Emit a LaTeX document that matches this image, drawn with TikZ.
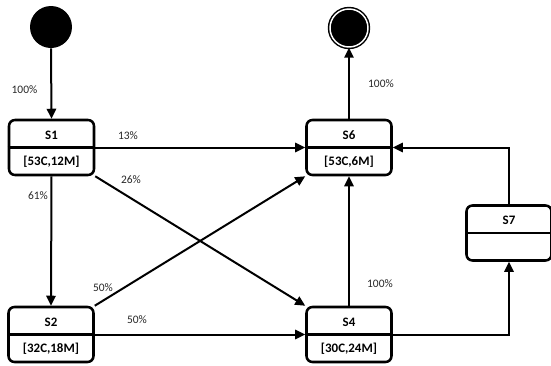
\documentclass[tikz,border=0pt]{standalone}
\usepackage{fontspec}
\setmainfont{Carlito}
\usetikzlibrary{arrows.meta}

\tikzset{
  state/.style={draw, rounded corners=4.5pt, line width=1.9pt, minimum width=63.75pt, minimum height=41.25pt, inner sep=0pt},
  trans/.style={line width=1.5pt, -{Triangle[length=7.5pt,width=7pt]}},
  plabel/.style={font=\fontsize{8.6}{10}\selectfont, text=black!85},
  sname/.style={font=\fontsize{9.7}{11}\selectfont\bfseries},
}

\begin{document}
\begin{tikzpicture}[x=0.75pt,y=0.75pt,yscale=-1,xscale=1]
\useasboundingbox (0,0) rectangle (551,365);

%Shape: Initial / Final [id:start,end]
\node [circle, fill=black, minimum size=31.5pt, inner sep=0pt] (start) at (51,27) {};
\node [circle, fill=black, draw=black, line width=1.1pt, double=white, double distance=1.1pt, minimum size=28.5pt, inner sep=0pt] (end) at (349,28) {};

%Shape: States
\node [state] (s1) at (51.5,147.5) {};
\node [state] (s6) at (349,147.5) {};
\node [state] (s2) at (51,334.5) {};
\node [state] (s4) at (349,334.5) {};
\node [state] (s7) at (509,233) {};

%Straight Lines: dividers
\foreach \s in {s1,s6,s2,s4,s7}
  \draw [line width=1.9pt] (\s.west) -- (\s.east);

% Text Node
\node [sname] (s1name) at (51.5,135.5) {S1};
\node [sname] (s1attr) at (51.5,161.5) {[53C,12M]};
\node [sname] (s6name) at (349,135.5) {S6};
\node [sname] (s6attr) at (349,161.5) {[53C,6M]};
\node [sname] (s2name) at (51,322.5) {S2};
\node [sname] (s2attr) at (51,348.5) {[32C,18M]};
\node [sname] (s4name) at (349,322.5) {S4};
\node [sname] (s4attr) at (349,348.5) {[30C,24M]};
\node [sname] (s7name) at (509,220.5) {S7};

%Straight Lines: transitions
\draw [trans] (start.south) -- (s1.north);
\draw [trans] (s1.east) -- (s6.west);
\draw [trans] (s1.south) -- (s2.north);
\draw [trans] (s1.south east) -- (s4.north west);
\draw [trans] (s2.north east) -- (s6.south west);
\draw [trans] (s2.east) -- (s4.west);
\draw [trans] (s4.north) -- (s6.south);
\draw [trans] (s4.east) -| (s7.south);
\draw [trans] (s7.north) |- (s6.east);
\draw [trans] (s6.north) -- (end.south);

% Text Node
\node [plabel] (p100a) at (24.5,89.5) {100\%};
\node [plabel] (p13) at (128,136) {13\%};
\node [plabel] (p26) at (131,179.5) {26\%};
\node [plabel] (p61) at (38,195.5) {61\%};
\node [plabel] (p50a) at (103,288) {50\%};
\node [plabel] (p50b) at (137,319.5) {50\%};
\node [plabel] (p100b) at (381,84) {100\%};
\node [plabel] (p100c) at (380,283.5) {100\%};

\end{tikzpicture}
\end{document}
